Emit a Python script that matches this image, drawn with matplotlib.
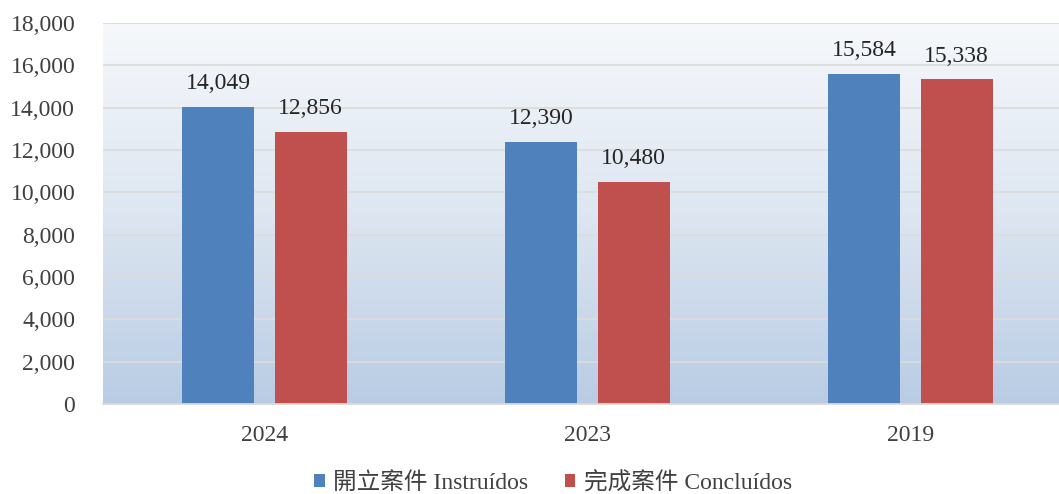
import numpy as np
import matplotlib.pyplot as plt
from matplotlib.colors import LinearSegmentedColormap

years = ['2024', '2023', '2019']
instruidos = [14049, 12390, 15584]
concluidos = [12856, 10480, 15338]
labels = ['開立案件 Instruídos', '完成案件 Concluídos']
colors = ['#4f81bd', '#c0504d']

plt.rcParams['font.family'] = ['Liberation Serif', 'Noto Sans CJK TC']

fig = plt.figure(figsize=(10.59, 4.94), dpi=100)
ax = fig.add_axes([103 / 1059, 90 / 494, 956 / 1059, 381 / 494])

x = np.arange(len(years))
w = 0.223
off = 0.143

# gradient background
cmap = LinearSegmentedColormap.from_list('bg', ['#b9cce4', '#dde6f1', '#f6f8fb'])
grad = np.linspace(0, 1, 256).reshape(-1, 1)
ax.imshow(grad, cmap=cmap, aspect='auto', origin='lower',
          extent=[-0.5, 2.46, 0, 18000], zorder=0)

for v in range(2000, 18001, 2000):
    ax.axhline(v, color='#dcdcdc', lw=1.3, zorder=1)

b1 = ax.bar(x - off, instruidos, w, color=colors[0], label=labels[0], zorder=2)
b2 = ax.bar(x + off, concluidos, w, color=colors[1], label=labels[1], zorder=2)

for bars in (b1, b2):
    for r in bars:
        ax.text(r.get_x() + r.get_width() / 2, r.get_height() + 600,
                f'{int(r.get_height()):,}', ha='center', va='bottom',
                fontsize=17, color='#262626')

ax.set_xlim(-0.5, 2.46)
ax.set_ylim(0, 18000)
ax.set_yticks(range(0, 18001, 2000))
ax.set_yticklabels([f'{v:,}' for v in range(0, 18001, 2000)])
ax.set_xticks(x)
ax.set_xticklabels(years)
ax.tick_params(length=0, labelsize=17, labelcolor='#404040')
ax.tick_params(axis='y', pad=20)
ax.tick_params(axis='x', pad=15)
for s in ['top', 'right', 'left']:
    ax.spines[s].set_visible(False)
ax.spines['bottom'].set_color('#d9d9d9')
ax.spines['bottom'].set_linewidth(1.3)

leg = fig.legend(handles=[b1, b2], loc='center', bbox_to_anchor=(553 / 1059, 1 - 483 / 494),
                 ncol=2, frameon=False, fontsize=17, handlelength=0.45, handleheight=0.45,
                 handletextpad=0.35, columnspacing=1.55)
for t in leg.get_texts():
    t.set_color('#404040')

fig.savefig('out.png', dpi=100)
